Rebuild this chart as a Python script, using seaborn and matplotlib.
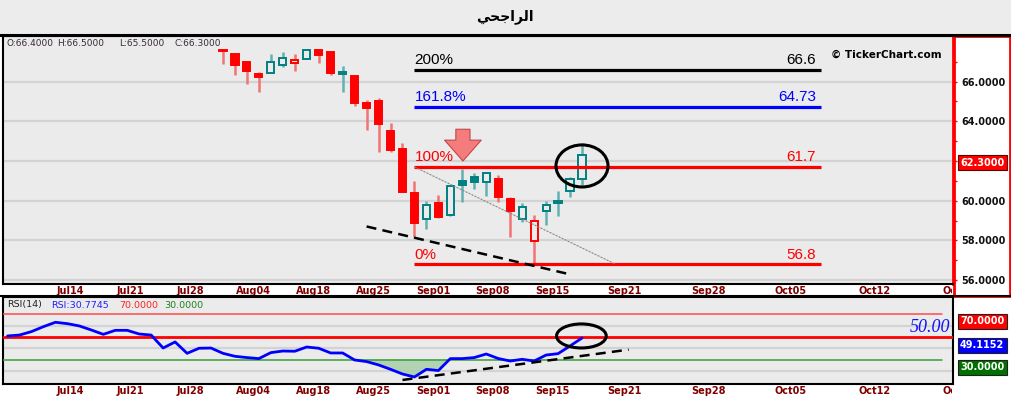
import numpy as np
import pandas as pd
import matplotlib
matplotlib.use("Agg")
import matplotlib.pyplot as plt
import seaborn as sns
from matplotlib.patches import Ellipse, Rectangle
from matplotlib.lines import Line2D
from matplotlib.transforms import Bbox, TransformedBbox, ScaledTranslation

# daily candles, one per trading-day slot (first visible candle sits in slot 18)
candle_pos = list(range(18, 49))
opens = [67.60, 67.40, 67.00, 66.40, 66.45, 66.86, 66.96, 67.16, 67.60, 67.50,
         66.37, 66.29, 64.93, 65.03, 63.53, 62.61, 60.39, 59.07, 59.87, 59.28,
         61.00, 61.18, 60.96, 61.10, 60.09, 59.07, 57.97, 59.47, 59.87, 60.48, 61.10]
highs = [67.60, 67.40, 67.00, 66.47, 67.40, 67.50, 67.40, 67.60, 67.60, 67.50,
         66.79, 66.29, 65.08, 65.19, 63.90, 62.90, 61.00, 59.99, 60.29, 60.80,
         61.60, 61.38, 61.40, 61.30, 60.21, 59.90, 59.28, 59.99, 60.49, 61.20, 62.90]
lows = [66.88, 66.35, 65.87, 65.47, 66.45, 66.76, 66.55, 67.15, 66.96, 66.35,
        65.50, 64.78, 63.57, 62.47, 62.47, 60.45, 58.19, 58.56, 59.15, 59.25,
        59.95, 60.58, 60.24, 59.95, 58.19, 58.90, 56.80, 58.78, 59.25, 60.18, 60.80]
closes = [67.55, 66.86, 66.55, 66.25, 66.98, 67.18, 67.08, 67.58, 67.36, 66.45,
          66.47, 64.94, 64.69, 63.88, 62.56, 60.46, 58.85, 59.79, 59.17, 60.76,
          60.80, 60.96, 61.38, 60.18, 59.47, 59.67, 58.98, 59.78, 59.97, 61.08, 62.30]

# RSI(14), one value per slot
rsi_pos = list(range(0, 49))
rsi_vals = [50.9, 51.7, 54.7, 59.0, 62.8, 61.6, 59.6, 56.1, 52.3, 55.8,
            55.8, 52.6, 51.7, 40.4, 45.7, 35.8, 40.2, 40.4, 35.8, 33.2,
            32.1, 31.2, 36.4, 37.8, 37.6, 41.3, 40.2, 36.1, 36.1, 30.0,
            28.6, 25.7, 21.9, 17.8, 15.2, 21.9, 20.8, 31.2, 31.2, 32.1,
            35.2, 31.3, 29.1, 30.6, 29.1, 34.3, 35.5, 42.2, 49.1]

tick_pos = [0, 4, 9, 14, 19, 24, 29, 34, 39, 44, 50, 57, 64, 71, 78]
tick_labels = ['', 'Jul14', 'Jul21', 'Jul28', 'Aug04', 'Aug18', 'Aug25', 'Sep01',
               'Sep08', 'Sep15', 'Sep21', 'Sep28', 'Oct05', 'Oct12', 'Oct19']

# fibonacci levels drawn on the chart
fib_names = ['200%', '161.8%', '100%', '0%']
fib_values = [66.6, 64.73, 61.7, 56.8]
fib_texts = ['66.6', '64.73', '61.7', '56.8']
fib_colors = ['black', 'blue', 'red', 'red']
fib_span = [34, 68]
fib_anchor_x = [34, 50.8]
fib_anchor_y = [61.7, 56.8]

# hand drawn annotations
price_trend_x = [30, 46.9]
price_trend_y = [58.7, 56.3]
rsi_trend_x = [33, 51.9]
rsi_trend_y = [12.6, 39.0]
arrow_x = 38.05
arrow_y = [63.6, 62.0]
price_circle = [48.0, 61.75, 4.35, 2.12]
rsi_circle = [47.95, 50.9, 4.15, 20.9]

last_close = 62.3
last_rsi = 49.1152
rsi_levels = [70, 50, 30]
header_ohlc = ['O:66.4000', 'H:66.5000', 'L:65.5000', 'C:66.3000']

sns.set_theme(style='white')
plt.rcParams['font.family'] = ['DejaVu Sans']

W, H = 1012, 397
BG = '#ebebeb'
RED = '#ff0000'
TEAL = '#008080'


def box(x0, y0, x1, y1):
    return [x0 / W, 1 - y1 / H, (x1 - x0) / W, (y1 - y0) / H]


fig = plt.figure(figsize=(W / 100, H / 100), dpi=100, facecolor='white')
fig.add_artist(Rectangle((0, 1 - 35 / H), 1, 35 / H, transform=fig.transFigure,
                         fc='#ececec', ec='none', zorder=0))
ax = fig.add_axes(box(3, 36, 953, 284))
ax_r = fig.add_axes(box(3, 297, 953, 384))
fig.add_artist(Rectangle((954 / W, 1 - 296 / H), 56 / W, 260 / H, transform=fig.transFigure,
                         fc='white', ec='red', lw=2, zorder=0))
fig.add_artist(Line2D([0, 1], [1 - 35 / H] * 2, color='black', lw=2.2))
fig.add_artist(Line2D([0, 1], [1 - 296 / H] * 2, color='black', lw=1.5))

title = '\uFEF2\uFEA4\uFE9F\uFE8D\uFEAE\uFEDF\uFE8D'  # الراجحي in shaped visual order
fig.text(505 / W, 1 - 17 / H, title, ha='center', va='center', fontsize=10,
         fontweight='bold', color='black')

# ---- price panel ----
ax.set_facecolor(BG)
o = np.array(opens)
c = np.array(closes)
prev = np.r_[o[0], c[:-1]]
up_day = c >= prev
hollow = c > o
col = np.where(up_day, TEAL, RED)
wick_col = np.where(up_day, '#62b0b0', '#f37373')
ax.vlines(candle_pos, lows, highs, colors=wick_col, lw=1.8, zorder=2)
body_low = np.minimum(o, c)
body_h = np.maximum(np.abs(c - o), 0.05)
face = [BG if h else cc for h, cc in zip(hollow, col)]
ax.bar(candle_pos, body_h, bottom=body_low, width=0.6, color=face,
       edgecolor=col, linewidth=1.4, zorder=3)

for name, val, txt, cc in zip(fib_names, fib_values, fib_texts, fib_colors):
    ax.plot(fib_span, [val, val], color=cc, lw=2.3, zorder=4, solid_capstyle='butt')
    ax.annotate(name, (fib_span[0], val), xytext=(0, 4), textcoords='offset points',
                ha='left', va='baseline', color=cc, fontsize=11, family='Liberation Sans')
    ax.annotate(txt, (fib_span[1], val), xytext=(-4, 4), textcoords='offset points',
                ha='right', va='baseline', color=cc, fontsize=11, family='Liberation Sans')

ax.plot(fib_anchor_x, fib_anchor_y, color='#888888', lw=0.8, ls=(0, (2, 1)), zorder=4)
ax.plot(price_trend_x, price_trend_y, color='black', lw=1.8, ls=(0, (4, 2.5)), zorder=4)
ax.annotate('', xy=(arrow_x, arrow_y[1]), xytext=(arrow_x, arrow_y[0]),
            arrowprops=dict(arrowstyle='simple,head_length=1.25,head_width=2.2,tail_width=0.85',
                            fc='#f47c7c', ec='#c04848', lw=0.8, shrinkA=0, shrinkB=0),
            zorder=6)
ax.add_patch(Ellipse(price_circle[:2], price_circle[2], price_circle[3], fill=False,
                     ec='black', lw=2.2, zorder=6))

ax.text(0.988, 0.925, '\u00a9 TickerChart.com', transform=ax.transAxes, ha='right',
        va='center', fontsize=7.5, fontweight='bold', color='black')
for x_px, txt in zip([7, 57, 119, 175], header_ohlc):
    fig.text(x_px / W, 1 - 44 / H, txt, ha='left', va='center', fontsize=6.5,
             color='#3a2a3a')

ax.set_xlim(-0.38, 79.0)
ax.set_ylim(55.80, 68.30)
ax.yaxis.tick_right()
ax.set_yticks([56, 58, 60, 62, 64, 66])
ax.set_yticklabels([f'{v:.4f}' for v in [56, 58, 60, 62, 64, 66]])
ax.set_yticks(np.arange(57, 68, 2), minor=True)
ax.tick_params(axis='y', which='both', length=3, color='red', width=1, pad=3,
               labelsize=7, labelcolor='#111111')
for lbl in ax.get_yticklabels():
    lbl.set_fontweight('bold')
ax.yaxis.grid(True, color='#d3d3d3', lw=1.6)
ax.xaxis.grid(False)
ax.set_xticks(tick_pos)
ax.tick_params(axis='x', direction='in', length=4, color='#a8a8a8', labelbottom=False)
for s in ['left', 'top', 'bottom']:
    ax.spines[s].set_color('black')
    ax.spines[s].set_linewidth(1.5)
ax.spines['right'].set_color('red')
ax.spines['right'].set_linewidth(2)

ax.annotate(f'{last_close:.4f}', xy=(1, last_close), xycoords=('axes fraction', 'data'),
            xytext=(5, -5.5), textcoords='offset points', ha='left', va='center',
            fontsize=7, fontweight='bold', color='white', annotation_clip=False, zorder=10,
            bbox=dict(boxstyle='square,pad=0.25', fc='red', ec='#600000', lw=0.8))

# ---- RSI panel ----
ax_r.set_facecolor(BG)
rsi_df = pd.DataFrame({'slot': rsi_pos, 'rsi': rsi_vals})
rv = np.array(rsi_vals)
ax_r.fill_between(rsi_pos, rv, 30, where=rv < 30, interpolate=True,
                  color='#a7cfa7', alpha=0.85, zorder=2)
ax_r.axhline(rsi_levels[0], xmax=0.988, color='#ff4a4a', lw=1.1, zorder=3)
ax_r.axhline(rsi_levels[1], color='red', lw=2.0, zorder=3)
ax_r.axhline(rsi_levels[2], xmax=0.988, color='#3c9c3c', lw=1.1, zorder=3)
sns.lineplot(data=rsi_df, x='slot', y='rsi', ax=ax_r, color='#0000ff', lw=2.0, zorder=5)
ax_r.plot(rsi_trend_x, rsi_trend_y, color='black', lw=1.8, ls=(0, (4, 2.5)), zorder=6)
ax_r.add_patch(Ellipse(rsi_circle[:2], rsi_circle[2], rsi_circle[3], fill=False,
                       ec='black', lw=2.2, zorder=6))
ax_r.text(78.8, 58.4, f'{rsi_levels[1]:.2f}', ha='right', va='center', color='#1010ff',
          fontsize=13, style='italic', family='Liberation Serif')

ax_r.set_xlim(-0.38, 79.0)
ax_r.set_ylim(9.1, 84.8)
ax_r.set_xlabel('')
ax_r.set_ylabel('')
ax_r.set_yticks([20, 40, 60])
ax_r.tick_params(axis='y', length=0, labelleft=False, labelright=False)
ax_r.yaxis.grid(True, color='#d3d3d3', lw=1.6)
ax_r.xaxis.grid(False)
ax_r.set_xticks(tick_pos)
ax_r.tick_params(axis='x', direction='in', length=5, color='#a8a8a8', labelbottom=False)
for s in ax_r.spines.values():
    s.set_color('black')
    s.set_linewidth(1.5)

fig.text(7 / W, 1 - 305 / H, 'RSI(14)', ha='left', va='center', fontsize=6.8, color='#222222')
fig.text(51 / W, 1 - 305 / H, 'RSI:30.7745', ha='left', va='center', fontsize=6.8, color='#2020ff')
fig.text(119 / W, 1 - 305 / H, f'{rsi_levels[0]:.4f}', ha='left', va='center', fontsize=6.8, color='#ff2020')
fig.text(164 / W, 1 - 305 / H, f'{rsi_levels[2]:.4f}', ha='left', va='center', fontsize=6.8, color='#208020')

for val, fc in zip([rsi_levels[0], last_rsi, rsi_levels[2]], ['red', '#0000ff', '#007000']):
    ax_r.annotate(f'{val:.4f}', xy=(1, val), xycoords=('axes fraction', 'data'),
                  xytext=(5, -5.2), textcoords='offset points', ha='left', va='center',
                  fontsize=7, fontweight='bold', color='white', annotation_clip=False,
                  zorder=10, bbox=dict(boxstyle='square,pad=0.25', fc=fc, ec='#202020', lw=0.8))

# date labels under both panels, cut at the price scale like the original
clip = TransformedBbox(Bbox.from_extents(0, 0, 952 / W, 1), fig.transFigure)
for a in (ax, ax_r):
    off = a.get_xaxis_transform() + ScaledTranslation(1 / 72, -5.2 / 72, fig.dpi_scale_trans)
    for p, lab in zip(tick_pos, tick_labels):
        t = a.text(p, 0, lab, transform=off, ha='left', va='center', fontsize=7,
                   fontweight='bold', color='#800000', clip_on=True)
        t.set_clip_path(None)
        t.set_clip_box(clip)

fig.savefig('out.png', dpi=100, facecolor=fig.get_facecolor())
